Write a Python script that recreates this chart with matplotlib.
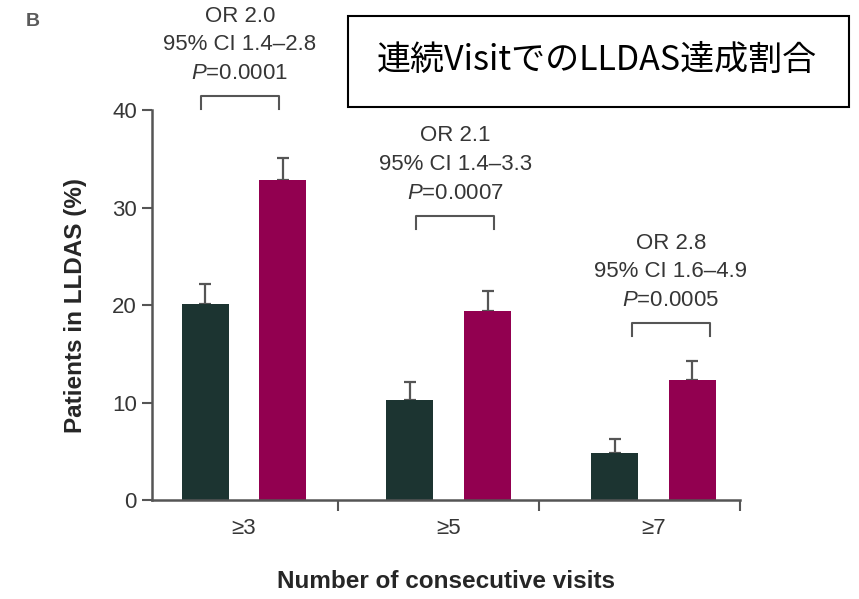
import numpy as np
import matplotlib
matplotlib.use("Agg")
import matplotlib.pyplot as plt
from matplotlib.patches import Rectangle

plt.rcParams['font.family'] = ['Liberation Sans', 'DejaVu Sans']
plt.rcParams['mathtext.fontset'] = 'custom'
plt.rcParams['mathtext.rm'] = 'Liberation Sans'
plt.rcParams['mathtext.it'] = 'Liberation Sans:italic'

visits = ['≥3', '≥5', '≥7']
ref_pct = [20.1, 10.3, 4.8]
ref_err = [2.1, 1.8, 1.5]
trt_pct = [32.8, 19.4, 12.3]
trt_err = [2.3, 2.1, 2.0]
odds_ratio = ['2.0', '2.1', '2.8']
ci_text = ['1.4–2.8', '1.4–3.3', '1.6–4.9']
p_text = ['0.0001', '0.0007', '0.0005']
bracket_y = [41.5, 29.2, 18.2]

dark = '#1c3431'
berry = '#920050'
axis_col = '#555555'
txt_col = '#363636'

bar_w = 0.23
off = 0.19
bracket_shift = [-0.02, 0.032, 0.085]
x = np.arange(len(visits))

fig = plt.figure(figsize=(8.59, 5.99), dpi=100)
ax = fig.add_axes([0.177, 0.165, 0.684, 0.651])

ax.bar(x - off, ref_pct, width=bar_w, color=dark, zorder=2)
ax.bar(x + off, trt_pct, width=bar_w, color=berry, zorder=2)
ax.errorbar(x - off, ref_pct, yerr=[np.zeros(3), ref_err], fmt='none',
            ecolor=axis_col, elinewidth=1.6, capsize=4, capthick=1.6, zorder=1)
ax.errorbar(x + off, trt_pct, yerr=[np.zeros(3), trt_err], fmt='none',
            ecolor=axis_col, elinewidth=1.6, capsize=4, capthick=1.6, zorder=1)

# significance brackets with OR / CI / P text stacked above
for i in range(len(visits)):
    top = bracket_y[i]
    xl = x[i] - off + bracket_shift[i]
    xr = x[i] + off + bracket_shift[i]
    ax.plot([xl, xl, xr, xr], [top - 1.4, top, top, top - 1.4], color=axis_col,
            lw=1.5, clip_on=False)
    cx = (xl + xr) / 2
    ax.text(cx, top + 1.7, '$\\it{P}$=' + p_text[i], ha='center', va='baseline',
            fontsize=16, color=txt_col)
    ax.text(cx, top + 4.7, '95% CI ' + ci_text[i], ha='center', va='baseline',
            fontsize=16, color=txt_col)
    ax.text(cx, top + 7.6, 'OR ' + odds_ratio[i], ha='center', va='baseline',
            fontsize=16, color=txt_col)

ax.set_xlim(-0.449, 2.42)
ax.set_ylim(0, 40)
ax.set_yticks([0, 10, 20, 30, 40])
ax.set_xticks(x)
ax.set_xticklabels(visits)
ax.tick_params(axis='x', length=0, pad=13, labelsize=16, labelcolor=txt_col)
ax.tick_params(axis='y', length=7, width=1.5, color=axis_col, pad=4,
               labelsize=16, labelcolor=txt_col)
ax.set_xticks([0.46, 1.44, 2.42], minor=True)
ax.tick_params(axis='x', which='minor', length=8, width=1.5, color=axis_col)

for side in ['top', 'right']:
    ax.spines[side].set_visible(False)
for side in ['left', 'bottom']:
    ax.spines[side].set_color(axis_col)
    ax.spines[side].set_linewidth(1.8)

ax.set_ylabel('Patients in LLDAS (%)', fontsize=17.5, fontweight='bold',
              color='#262626', labelpad=18)
ax.set_xlabel('Number of consecutive visits', fontsize=17.5, fontweight='bold',
              color='#262626', labelpad=22)

fig.text(33 / 859, 1 - 21 / 599, 'B', fontsize=14, fontweight='bold',
         color='#5a5a5a', ha='center', va='center')

fig.patches.append(Rectangle((348 / 859, 1 - 107 / 599), 501 / 859, 91 / 599,
                             transform=fig.transFigure, fill=False,
                             edgecolor='black', lw=1.5))
fig.text(597 / 859, 1 - 60 / 599, '連続VisitでのLLDAS達成割合',
         family=['Noto Sans CJK JP', 'DejaVu Sans'], fontsize=24.5,
         ha='center', va='center', color='black')

fig.savefig('out.png', dpi=100)
